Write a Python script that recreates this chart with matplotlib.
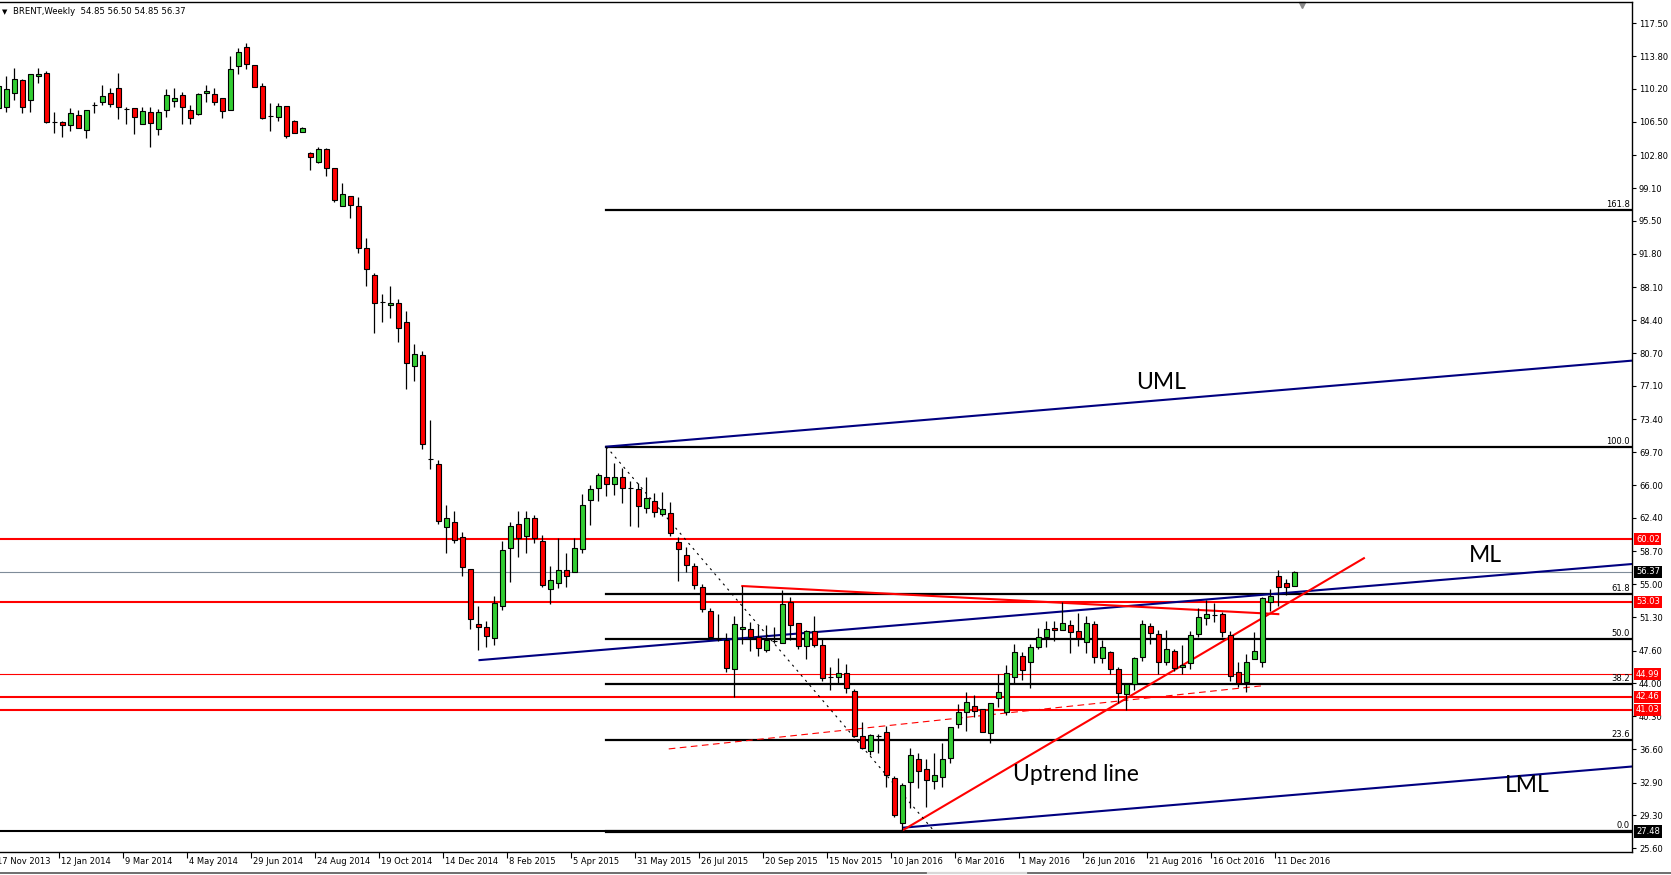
import matplotlib
matplotlib.use('Agg')
import matplotlib.pyplot as plt
import pandas as pd
from matplotlib.lines import Line2D

# weekly Brent candles, first bar is week of 17 Nov 2013
start_date = '2013-11-17'
opens = [108.07, 108.11, 109.67, 111.12, 108.92, 111.56, 111.90, 106.51, 106.44, 106.10,
         107.22, 105.59, 108.37, 108.74, 109.67, 110.22, 107.89, 108.07, 106.29, 107.55,
         105.66, 107.77, 108.78, 109.45, 107.77, 107.40, 109.67, 109.56, 109.11, 107.77,
         112.75, 114.79, 112.79, 110.45, 107.18, 107.00, 108.22, 106.55, 105.40, 102.99,
         102.06, 103.47, 101.32, 97.12, 98.20, 97.08, 92.41, 89.40, 86.47, 86.10,
         86.28, 84.17, 79.27, 80.49, 68.98, 68.35, 61.34, 61.89, 60.22, 56.66,
         50.54, 50.20, 48.98, 52.58, 58.99, 61.67, 60.37, 62.34, 59.82, 54.43,
         55.10, 56.59, 56.40, 58.89, 64.34, 65.68, 66.91, 66.13, 66.91, 65.68,
         65.57, 63.45, 64.31, 62.82, 62.90, 59.74, 58.29, 57.07, 54.73, 52.06,
         48.87, 48.79, 45.53, 49.98, 49.98, 49.09, 47.68, 48.72, 48.49, 53.06,
         50.65, 48.16, 49.83, 48.20, 44.63, 44.71, 45.15, 43.08, 38.14, 36.47,
         38.14, 38.58, 33.39, 28.45, 32.94, 35.50, 34.39, 33.13, 33.50, 35.61,
         39.44, 40.74, 41.48, 41.14, 38.40, 42.30, 40.81, 44.63, 47.05, 46.31,
         48.05, 49.09, 50.09, 49.91, 50.43, 49.83, 48.53, 50.54, 46.75, 47.50,
         45.56, 42.74, 43.89, 46.86, 50.35, 49.43, 46.31, 47.57, 45.75, 46.20,
         49.43, 51.21, 51.58, 51.65, 49.35, 45.19, 44.15, 46.64, 46.38, 53.06,
         55.92, 55.18, 54.85]
highs = [110.78, 111.60, 112.45, 111.23, 111.78, 112.45, 112.19, 107.55, 106.62, 108.00,
         107.81, 107.81, 108.74, 110.60, 110.30, 111.97, 108.18, 108.07, 108.11, 108.11,
         107.92, 110.19, 110.26, 109.82, 108.33, 109.67, 110.60, 110.22, 109.11, 113.82,
         114.68, 115.27, 112.79, 110.82, 108.59, 108.55, 108.22, 106.70, 105.88, 103.13,
         103.73, 103.62, 101.40, 99.65, 98.20, 98.09, 93.52, 89.62, 87.28, 88.21,
         86.73, 85.43, 81.75, 80.97, 73.29, 68.80, 63.83, 63.16, 60.78, 56.66,
         52.58, 50.91, 53.69, 59.85, 61.97, 63.16, 63.16, 62.71, 60.48, 57.03,
         60.11, 58.44, 60.11, 65.05, 66.05, 67.42, 70.32, 68.54, 67.98, 66.50,
         66.24, 66.91, 65.12, 65.27, 64.16, 60.30, 59.11, 57.40, 54.99, 52.32,
         51.69, 49.53, 51.46, 54.80, 50.83, 50.46, 50.46, 50.20, 54.36, 53.54,
         50.72, 49.90, 51.46, 49.05, 45.75, 46.75, 46.12, 43.30, 39.70, 38.32,
         38.32, 39.21, 33.65, 32.90, 36.73, 36.17, 35.50, 36.17, 37.36, 39.07,
         41.66, 43.04, 42.67, 41.14, 41.81, 44.97, 46.01, 48.35, 47.42, 48.35,
         50.09, 50.91, 50.91, 53.06, 51.02, 51.76, 51.47, 50.91, 48.79, 47.61,
         45.82, 43.97, 46.94, 51.02, 50.72, 49.91, 49.91, 47.75, 48.24, 49.80,
         52.32, 53.25, 52.95, 51.95, 49.83, 46.31, 47.24, 49.72, 53.55, 54.44,
         56.59, 55.59, 56.50]
lows = [107.81, 107.60, 108.92, 107.44, 107.55, 110.86, 106.33, 105.29, 104.84, 105.51,
        105.77, 104.73, 107.44, 108.40, 108.11, 106.77, 106.25, 105.14, 106.22, 103.73,
        105.03, 107.07, 108.18, 106.29, 106.29, 107.25, 108.74, 108.37, 106.96, 107.77,
        111.86, 112.38, 110.34, 106.81, 105.51, 106.62, 104.73, 105.21, 105.32, 101.17,
        101.87, 100.50, 97.60, 97.12, 95.82, 91.85, 88.25, 82.94, 84.24, 84.69,
        82.01, 76.78, 77.67, 70.02, 67.80, 61.67, 58.52, 59.56, 55.96, 49.98,
        47.68, 48.05, 48.24, 52.13, 55.21, 58.07, 58.44, 59.56, 54.73, 52.76,
        54.55, 54.73, 56.40, 58.52, 61.60, 64.31, 64.83, 64.94, 64.01, 61.49,
        61.41, 62.90, 62.53, 62.60, 60.41, 55.40, 56.40, 54.43, 51.95, 48.98,
        48.72, 45.27, 42.48, 48.35, 47.60, 47.01, 47.49, 48.49, 48.49, 48.79,
        47.75, 46.71, 47.97, 44.26, 43.22, 43.97, 42.85, 38.03, 36.62, 35.99,
        36.25, 32.46, 29.04, 27.48, 30.05, 32.35, 30.23, 32.24, 32.46, 35.13,
        39.03, 38.70, 40.25, 38.58, 37.28, 41.37, 40.44, 43.97, 44.34, 43.49,
        47.75, 48.05, 48.68, 49.91, 47.31, 48.16, 47.31, 46.27, 46.20, 44.97,
        41.74, 41.00, 43.23, 46.49, 48.31, 45.01, 46.01, 45.34, 44.97, 45.56,
        49.17, 50.46, 50.84, 49.17, 44.27, 43.60, 43.04, 46.64, 45.82, 52.02,
        52.62, 53.80, 54.85]
closes = [110.48, 110.11, 111.23, 108.11, 111.78, 111.82, 106.51, 106.51, 106.10, 107.44,
          105.84, 107.77, 108.37, 109.33, 108.52, 108.11, 107.89, 107.00, 107.66, 106.40,
          107.55, 109.45, 109.11, 108.18, 106.96, 109.56, 109.93, 108.74, 107.66, 112.34,
          114.23, 112.90, 110.34, 106.96, 107.18, 108.22, 104.95, 105.29, 105.81, 102.54,
          103.43, 101.32, 97.79, 98.42, 97.23, 92.41, 90.07, 86.28, 86.47, 86.28,
          83.50, 79.60, 80.60, 70.58, 68.98, 62.01, 62.34, 59.93, 56.88, 51.09,
          50.20, 49.24, 52.88, 58.81, 61.49, 60.19, 62.34, 60.11, 54.92, 55.47,
          56.59, 55.96, 59.00, 63.79, 65.57, 67.13, 66.13, 66.91, 65.68, 65.68,
          63.71, 64.57, 63.05, 63.42, 60.67, 58.89, 57.11, 54.92, 52.21, 49.09,
          48.87, 45.64, 50.54, 50.20, 49.09, 47.87, 48.79, 48.72, 52.80, 50.42,
          48.16, 49.83, 48.20, 44.52, 44.63, 45.15, 43.41, 38.14, 36.73, 38.21,
          38.14, 33.76, 29.30, 32.61, 35.95, 34.24, 33.20, 33.72, 35.50, 39.07,
          40.74, 41.85, 40.92, 38.58, 41.74, 42.96, 45.08, 47.42, 45.45, 47.98,
          49.17, 49.98, 49.91, 50.65, 49.65, 48.98, 50.65, 46.86, 47.98, 45.53,
          42.86, 43.86, 46.79, 50.54, 49.54, 46.31, 47.79, 45.71, 46.01, 49.31,
          51.32, 51.65, 51.58, 49.65, 44.82, 44.04, 46.38, 47.57, 53.43, 53.69,
          54.73, 54.66, 56.37]

price_ticks = [117.50, 113.80, 110.20, 106.50, 102.80, 99.10, 95.50, 91.80, 88.10, 84.40,
               80.70, 77.10, 73.40, 69.70, 66.00, 62.40, 58.70, 55.00, 51.30, 47.60,
               44.00, 40.30, 36.60, 32.90, 29.30, 25.60]

# fibonacci retracement (anchored at the May 2015 high)
fib_names = ['0.0', '23.6', '38.2', '50.0', '61.8', '100.0', '161.8']
fib_levels = [27.48, 37.60, 43.85, 48.90, 53.95, 70.30, 96.70]
fib_anchor = 76

red_levels = [60.02, 53.03, 44.99, 42.46, 41.03]
last_price = 56.37
base_level = 27.48

# trend lines as (week index, price) pairs
uml_x, uml_y = [76, 204.2], [70.32, 79.90]
ml_x, ml_y = [60.15, 204.2], [46.55, 57.25]
lml_x, lml_y = [113.1, 204.2], [27.89, 34.70]
up_x, up_y = [113.1, 170.7], [27.63, 57.90]
down_x, down_y = [93.0, 160.0], [54.80, 51.67]
dash_x, dash_y = [83.8, 158.1], [36.66, 43.70]
diag_x, diag_y = [76.0, 117.0], [70.32, 27.48]

W, H = 1671, 875
fig = plt.figure(figsize=(W / 100, H / 100), dpi=100)
ax = fig.add_axes([0, 1 - 852 / H, 1632 / W, 850 / H])
ax.set_xlim(0.21, 204.21)
ax.set_ylim(25.18, 119.84)

n = len(opens)
idx = list(range(n))
dates = pd.date_range(start_date, periods=n, freq='7D')

# horizontal levels
for lvl in red_levels:
    ax.axhline(lvl, color='red', lw=0.8 if lvl == 44.99 else 1.5, zorder=1)
ax.axhline(last_price, color='#7f8c99', lw=0.8, zorder=1)
ax.axhline(base_level, color='black', lw=1.5, zorder=1)
for name, lvl in zip(fib_names, fib_levels):
    ax.plot([fib_anchor, 204.21], [lvl, lvl], color='black', lw=1.6 if name != '0.0' else 2.3, zorder=1.2)
    ax.annotate(name, xy=(1, lvl), xycoords=('axes fraction', 'data'), xytext=(-2, 1),
                textcoords='offset pixels', ha='right', va='bottom', fontsize=6)

# pitchfork and trend lines
for xs, ys in [(uml_x, uml_y), (ml_x, ml_y), (lml_x, lml_y)]:
    ax.plot(xs, ys, color='#000080', lw=1.5, zorder=1.3)
ax.plot(up_x, up_y, color='red', lw=1.5, zorder=1.4)
ax.plot(down_x, down_y, color='red', lw=1.5, zorder=1.4)
ax.plot(dash_x, dash_y, color='red', lw=0.8, ls=(0, (6, 4)), zorder=1.4)
ax.plot(diag_x, diag_y, color='black', lw=0.8, ls=(0, (2, 4)), zorder=1.4)

# candles
body_col = ['#32cd32' if c >= o else '#ff0000' for o, c in zip(opens, closes)]
ax.vlines(idx, lows, highs, color='black', lw=0.9, zorder=2)
ax.bar(idx, [abs(c - o) for o, c in zip(opens, closes)], bottom=[min(o, c) for o, c in zip(opens, closes)],
       width=0.6, color=body_col, edgecolor='black', linewidth=0.8, zorder=3)

# text labels
lab_font = dict(family=['Lato', 'DejaVu Sans'], fontsize=16.5, color='black')
ax.text(145.4, 77.44, 'UML', ha='center', va='center', **lab_font)
ax.text(185.9, 58.15, 'ML', ha='center', va='center', **lab_font)
ax.text(191.1, 32.64, 'LML', ha='center', va='center', **lab_font)
ax.text(126.8, 33.76, 'Uptrend line', ha='left', va='center', **lab_font)

# right price scale
ax.yaxis.tick_right()
ax.set_yticks(price_ticks)
ax.set_yticklabels(['%.2f' % v for v in price_ticks])
ax.tick_params(axis='y', direction='out', length=3, width=0.8, labelsize=6, pad=2)
for lvl, fc in [(60.02, 'red'), (last_price, 'black'), (53.03, 'red'), (44.99, 'red'),
                (42.46, 'red'), (41.03, 'red'), (base_level, 'black')]:
    ax.annotate('%.2f' % lvl, xy=(1, lvl), xycoords=('axes fraction', 'data'), xytext=(4, 0),
                textcoords='offset pixels', ha='left', va='center', fontsize=6, color='white',
                bbox=dict(boxstyle='square,pad=0.2', fc=fc, ec='none'), annotation_clip=False)

# bottom time scale
tick_pos = [k - 0.36 for k in range(0, n, 8)]
ax.set_xticks([p for p in tick_pos if p > 0.21])
ax.set_xticklabels([])
ax.tick_params(axis='x', direction='out', length=4, width=0.8)
for k, p in zip(range(0, n, 8), tick_pos):
    d = dates[k]
    ax.annotate(f'{d.day} {d:%b %Y}', xy=(p, 0), xycoords=('data', 'axes fraction'),
                xytext=(2, -10), textcoords='offset pixels', ha='left', va='center',
                fontsize=6, annotation_clip=False)

ax.spines['left'].set_visible(False)
for s in ['top', 'right', 'bottom']:
    ax.spines[s].set_linewidth(1.0)

# header and window decorations
fig.text(2 / W, 1 - 12 / H, '\u25bc', fontsize=5, va='center')
fig.text(13 / W, 1 - 12 / H,
         'BRENT,Weekly  %.2f %.2f %.2f %.2f' % (opens[-1], highs[-1], lows[-1], closes[-1]),
         fontsize=6.1, va='center')
ax.plot([0.798], [0.997], marker='v', color='#8a8a8a', markersize=5, transform=ax.transAxes, clip_on=False)
fig.add_artist(Line2D([0, 1], [1 - 873 / H, 1 - 873 / H], color='#555555', lw=1.2))
fig.add_artist(Line2D([928 / W, 1026 / W], [1 - 873 / H, 1 - 873 / H], color='#d8d8d8', lw=1.6))

fig.savefig('out.png', dpi=100)
